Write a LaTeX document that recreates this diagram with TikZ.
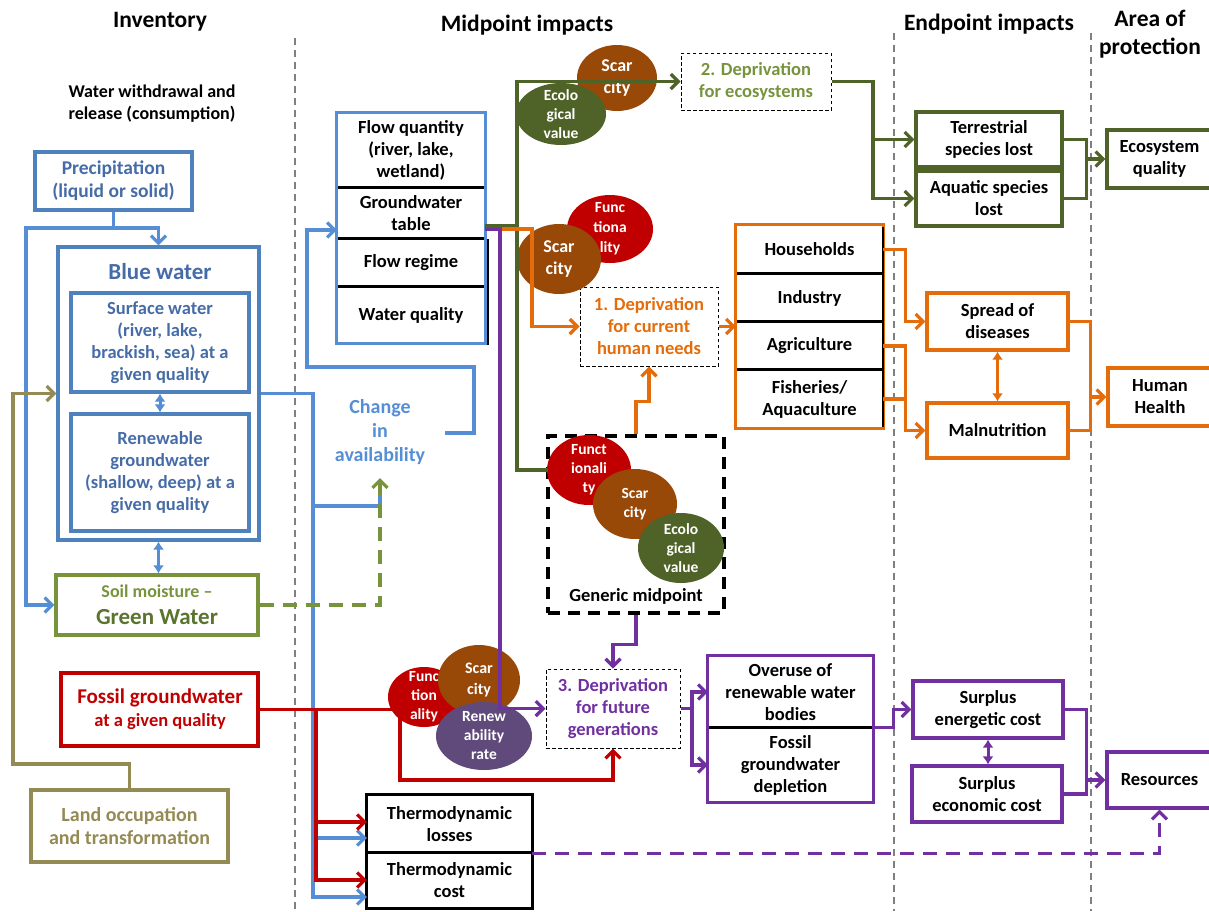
\documentclass[tikz,border=0pt]{standalone}
\usepackage{fontspec}
\setmainfont{Carlito}
\usetikzlibrary{arrows.meta,shapes.geometric,calc}

\definecolor{sepgray}{RGB}{128,128,128}
\definecolor{wblue}{RGB}{79,129,189}
\definecolor{lblue}{RGB}{85,142,213}
\definecolor{tblue}{RGB}{70,108,168}
\definecolor{olive}{RGB}{119,147,60}
\definecolor{gwtext}{RGB}{90,115,45}
\definecolor{dolive}{RGB}{79,98,40}
\definecolor{wred}{RGB}{192,0,0}
\definecolor{wbrown}{RGB}{152,72,7}
\definecolor{worange}{RGB}{228,108,10}
\definecolor{wpurple}{RGB}{112,48,160}
\definecolor{dpurple}{RGB}{96,74,123}
\definecolor{khaki}{RGB}{148,138,84}

\newcommand\fs[2]{\fontsize{#1}{#2}\selectfont\bfseries}
% box from its corners: name, x1, y1, x2, y2, style, text
\newcommand\bx[7]{%
  \pgfmathsetmacro\bxw{#4-#2}\pgfmathsetmacro\bxh{#5-#3}%
  \node[#6,minimum width=\bxw pt,minimum height=\bxh pt] (#1) at ({(#2+#4)/2},{(#3+#5)/2}) {#7};}
% filled bubble: name, cx, cy, rx, ry, colour, label options, text
\newcommand\bub[8]{%
  \pgfmathsetmacro\bxw{2*#4}\pgfmathsetmacro\bxh{2*#5}%
  \node[bubble,fill=#6,minimum width=\bxw pt,minimum height=\bxh pt,
        label={[btxt,#7]center:#8}] (#1) at (#2,#3) {};}

\begin{document}
\begin{tikzpicture}[x=1pt,y=-1pt,
  >={Straight Barb[length=7.5pt,width=15pt]},
  sep/.style={draw=sepgray,line width=1.7pt,dash pattern=on 7pt off 5pt},
  box/.style={draw,line width=3.1pt,inner sep=0pt,align=center,font=\fs{18.5}{22}},
  cell/.style={inner sep=0pt,align=center,font=\fs{18.5}{22}},
  dbox/.style={draw=black,line width=1pt,dash pattern=on 3.5pt off 2.5pt,inner sep=0pt,align=center,font=\fs{18.5}{22}},
  bubble/.style={ellipse,inner sep=0pt},
  btxt/.style={text=white,align=center,font=\fs{15.5}{19}},
  hdr/.style={font=\fs{23.5}{28},align=center},
  ln/.style={line width=3.2pt},
  dsh/.style={dash pattern=on 14pt off 9pt},
  dia/.style={line width=3pt,{Latex[length=8pt,width=11pt]}-{Latex[length=8pt,width=11pt]}},
  div/.style={draw=black,line width=3.2pt},
]
\useasboundingbox (0,0) rectangle (1209,911);

% column headings and separators
\node[hdr] (hinv) at (160,22) {Inventory};
\node[hdr] (hmid) at (527,25) {Midpoint impacts};
\node[hdr] (hend) at (989,24) {Endpoint impacts};
\node[hdr] (hap) at (1150,34) {Area of\\protection};
\draw[sep] (295,38) -- (295,911);
\draw[sep] (894,33) -- (894,911);
\draw[sep] (1091,33) -- (1091,911);

% inventory
\node[font=\fs{18}{22},align=center] (wwr) at (152,104) {Water withdrawal and\\release (consumption)};
\bx{prec}{35}{152}{192}{210}{box,draw=wblue,text=tblue,font=\fs{19.5}{23}}{Precipitation\\(liquid or solid)}
\bx{bluew}{58}{247}{259}{540}{box,draw=wblue}{}
\node[font=\fs{23}{26},text=tblue] (bwl) at (160,272) {Blue water};
\bx{surf}{71}{293}{249}{392}{box,draw=wblue,text=tblue}{Surface water\\(river, lake,\\brackish, sea) at a\\given quality}
\bx{renew}{71}{414}{249}{531}{box,draw=wblue,text=tblue}{Renewable\\groundwater\\(shallow, deep) at a\\given quality}
\bx{greenw}{56}{575}{258}{635}{box,draw=olive}{}
\node[font=\fs{18}{22},text=olive] (sml) at (157,591) {Soil moisture --};
\node[font=\fs{23}{26},text=gwtext] (gwl) at (157,617) {Green Water};
\bx{fossil}{61}{673}{258}{746}{box,draw=wred}{}
\node[font=\fs{21}{24},text=wred] (fgl) at (160,698) {Fossil groundwater};
\node[font=\fs{18.5}{22},text=wred] (fql) at (160,722) {at a given quality};
\bx{land}{31}{790}{228}{862}{box,draw=khaki,text=khaki,font=\fs{20}{23}}{Land occupation\\and transformation}

% midpoint indicators
\bx{fq}{337}{113}{485}{188}{cell}{Flow quantity\\(river, lake,\\wetland)}
\bx{fgw}{337}{188}{485}{239}{cell}{Groundwater\\table}
\bx{frg}{337}{239}{485}{287}{cell}{Flow regime}
\bx{fwq}{337}{287}{485}{343}{cell}{Water quality}
\draw[div] (fgw.north west) -- (fgw.north east);
\draw[div] (frg.north west) -- (frg.north east);
\draw[div] (fwq.north west) -- (fwq.north east);
\draw[black,line width=1.6pt] (488,239) -- (488,345);
\draw[lblue,line width=3.1pt] (fq.north west) rectangle (fwq.south east);

\node[font=\fs{20}{24},text=lblue,align=center] (chg) at (380,432) {Change\\in\\availability};
\coordinate (cs) at (445,433);
\coordinate (ca) at (380,478);

\bx{tloss}{367}{795}{532}{853}{cell}{Thermodynamic\\losses}
\bx{tcost}{367}{853}{532}{908}{cell}{Thermodynamic\\cost}
\draw[div] (tcost.north west) -- (tcost.north east);
\draw[black,line width=3.2pt] (tloss.north west) rectangle (tcost.south east);

\bx{dep2}{681}{53}{831}{110}{dbox,text=olive}{2. Deprivation\\for ecosystems}
\bx{dep1}{580}{287}{718}{366}{dbox,text=worange}{1. Deprivation\\for current\\human needs}
\bx{dep3}{546}{669}{680}{748}{dbox,text=wpurple}{3. Deprivation\\for future\\generations}

\bx{gen}{548}{436}{724}{613}{draw=black,line width=3.2pt,dash pattern=on 12pt off 8pt,inner sep=0pt}{}
\node[font=\fs{18.5}{22}] (genl) at (636,596) {Generic midpoint};

\bx{shh}{736}{225}{883}{274}{cell}{Households}
\bx{sin}{736}{274}{883}{322}{cell}{Industry}
\bx{sag}{736}{322}{883}{370}{cell}{Agriculture}
\bx{sfi}{736}{370}{883}{428}{cell}{Fisheries/\\Aquaculture}
\draw[div] (sin.north west) -- (sin.north east);
\draw[div] (sag.north west) -- (sag.north east);
\draw[div] (sfi.north west) -- (sfi.north east);
\draw[worange,line width=3.2pt] (shh.north west) rectangle (sfi.south east);
\draw[black,line width=2.4pt] (883,226.5) -- (883,426.5);

\bx{ov1}{708}{656}{873}{728}{cell}{Overuse of\\renewable water\\bodies}
\bx{ov2}{708}{728}{873}{802}{cell}{Fossil\\groundwater\\depletion}
\draw[div] (ov2.north west) -- (ov2.north east);
\draw[wpurple,line width=3.2pt] (ov1.north west) rectangle (ov2.south east);

% endpoints and areas of protection
\bx{terr}{916}{112}{1062}{167}{box,draw=dolive}{Terrestrial\\species lost}
\bx{aqua}{916}{171}{1062}{226}{box,draw=dolive}{Aquatic species\\lost}
\bx{spread}{927}{293}{1068}{350}{box,draw=worange}{Spread of\\diseases}
\bx{maln}{927}{403}{1068}{458}{box,draw=worange}{Malnutrition}
\bx{energ}{913}{681}{1063}{738}{box,draw=wpurple}{Surplus\\energetic cost}
\bx{econ}{912}{766}{1062}{822}{box,draw=wpurple}{Surplus\\economic cost}
\bx{eco}{1107}{130}{1212}{188}{box,draw=dolive}{Ecosystem\\quality}
\bx{hh}{1108}{368}{1212}{426}{box,draw=worange}{Human\\Health}
\bx{res}{1107}{752}{1212}{808}{box,draw=wpurple}{Resources}

% blue flows
\coordinate (pj) at (113.5,228);
\draw[ln,lblue,->] (prec.south) -- (pj) -| (bluew.north);
\draw[ln,lblue,->] (pj) -- (26,228) |- (greenw.west);
\draw[dia,lblue] (surf.south) -- (renew.north);
\draw[dia,lblue] (bluew.south) -- (bluew.south |- greenw.north);
\coordinate (bj) at (313,393.5);
\draw[ln,lblue,->] (bluew.east) -- (bj) |- ($(tcost.west)+(0,16.5)$);
\draw[ln,lblue,->] (bj) |- ($(tloss.west)+(0,14)$);
\draw[ln,lblue] (bj) |- (380,506) -- (380,486);
\draw[ln,lblue,->] (cs) -- (474,433) -- (474,367) -- (307,367) |- ($(fgw.west)+(0,16.5)$);

% land use
\draw[ln,khaki,->] (land.north) -- (129.5,764) -- (13,764) |- (bluew.west);

% green water
\draw[ln,olive,dsh,->] (greenw.east) -| (ca);

% fossil groundwater
\draw[ln,wred] (fossil.east) -- (400,709.5);
\draw[ln,wred,->] (400,709.5) -- (400,780) -| (dep3.south);
\draw[ln,wred,->] (316,709.5) |- ($(tloss.west)+(0,-2)$);
\draw[ln,wred,->] (316,709.5) |- ($(tcost.west)+(0,-0.5)$);

% characterisation bubbles
\bub{tsc}{617}{78}{40}{33}{wbrown}{font=\fs{18}{22}}{Scar\\city}
\bub{tec}{561}{114}{45}{31}{dolive}{}{Ecolo\\gical\\value}
\bub{mfu}{610}{229}{43}{34}{wred}{font=\fs{15.5}{20}}{Func\\tiona\\lity}
\bub{msc}{559}{259}{42}{35}{wbrown}{font=\fs{18}{22}}{Scar\\city}
\bub{gfu}{589}{470}{42}{35}{wred}{}{Funct\\ionali\\ty}
\bub{gsc}{635}{504}{42}{35}{wbrown}{}{Scar\\city}
\bub{gec}{681}{548}{43}{35}{dolive}{}{Ecolo\\gical\\value}
\bub{bfu}{424}{697}{36}{30}{wred}{}{Func\\tion\\ality}
\bub{bsc}{479}{680}{41}{35}{wbrown}{font=\fs{16}{21}}{Scar\\city}
\bub{bre}{484}{736}{48}{34}{dpurple}{}{Renew\\ability\\rate}

% purple flows
\draw[ln,wpurple,->] ($(fgw.east)+(0,15.5)$) -- (500,229) -- (500,708.5) -- (dep3.west);
\draw[ln,wpurple,->] (gen.south) -- ++(0,30) -| (dep3.north);
\coordinate (pj3) at (692,708.5);
\draw[ln,wpurple] (dep3.east) -- (pj3);
\draw[ln,wpurple,->] (pj3) |- (ov1.west);
\draw[ln,wpurple,->] (pj3) |- (ov2.west);
\draw[ln,wpurple,->] (ov2.north east) -- ++(20,0) |- (energ.west);
\draw[dia,wpurple] (energ.south) -- (energ.south |- econ.north);
\draw[ln,wpurple] (energ.east) -- ++(22,0) |- (econ.east);
\draw[ln,wpurple,->] (1085,780) -- (res.west);
\draw[ln,wpurple,dsh,->] (tloss.south east) -| (res.south);

% ecosystem flows
\coordinate (gw) at (548,470);
\draw[ln,dolive] ($(fgw.east)+(0,12.5)$) -- (517,226);
\draw[ln,dolive,->] (gw) -- (517,470) -- (517,81.5) -- (dep2.west);
\coordinate (g2) at (873,81.5);
\draw[ln,dolive,->] (dep2.east) -- (g2) |- (terr.west);
\draw[ln,dolive,->] (g2) |- (aqua.west);
\draw[ln,dolive] (terr.east) -- ++(23,0) |- (aqua.east);
\draw[ln,dolive,->] (1085,159) -- (eco.west);

% human needs flows
\draw[ln,worange,->] (502,229) -- (532,229) |- (dep1.west);
\draw[ln,worange,->] (dep1.east) -- (dep1.east -| shh.west);
\draw[ln,worange,->] (gen.north) -- ++(0,-33) -| (dep1.south);
\draw[ln,worange,->] (shh.east) -- ++(22,0) |- (spread.west);
\draw[ln,worange,->] (sag.east) -- ++(22,0) |- (maln.west);
\draw[ln,worange] (sfi.east) -- ++(22,0);
\draw[dia,worange] (spread.south) -- (maln.north);
\draw[ln,worange] (spread.east) -- ++(21,0) |- (maln.east);
\draw[ln,worange,->] (1089,397) -- (hh.west);
\end{tikzpicture}
\end{document}
